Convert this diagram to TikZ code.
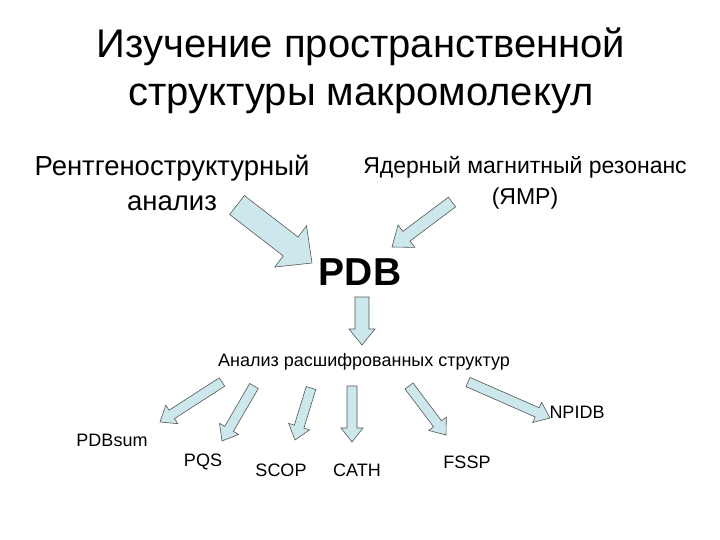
\documentclass[tikz,border=0pt]{standalone}
\usepackage{fontspec}
\setmainfont{Liberation Sans}
\usetikzlibrary{calc}
\definecolor{afill}{HTML}{CCE8EC}
\definecolor{aline}{HTML}{555555}
\tikzset{lbl/.style={inner sep=0pt,align=center},
sml/.style={lbl,font=\fontsize{18}{20}\selectfont},
barr/.style={fill=afill,draw=aline,line width=0.6pt,line join=miter}}
% #1 tail, #2 tip, #3 half shaft, #4 half head, #5 head length
\newcommand\blockarr[5]{%
\coordinate (hb) at ($(#2)!#5!(#1)$);
\draw[barr] ($(#1)!#3!90:(#2)$) -- ($(hb)!#3!90:(#2)$) -- ($(hb)!#4!90:(#2)$) -- (#2)
 -- ($(hb)!#4!-90:(#2)$) -- ($(hb)!#3!-90:(#2)$) -- ($(#1)!#3!-90:(#2)$) -- cycle;}
\begin{document}
\begin{tikzpicture}[x=1pt,y=-1pt]
\useasboundingbox (0,0) rectangle (720,540);
\node[lbl,font=\fontsize{40}{48}\selectfont] (title) at (361,71) {Изучение пространственной\\структуры макромолекул};
\node[lbl,font=\fontsize{27.5}{35}\selectfont] (xray) at (172,183) {Рентгеноструктурный\\анализ};
\node[lbl,font=\fontsize{23}{31}\selectfont] (nmr) at (525,183) {Ядерный магнитный резонанс\\(ЯМР)};
\node[lbl,font=\fontsize{39}{44}\bfseries] (pdb) at (360,272) {PDB};
\node[sml] (anal) at (364,362) {Анализ расшифрованных структур};
\node[sml] (pdbsum) at (112,440) {PDBsum};
\node[sml] (pqs) at (203,462) {PQS};
\node[sml] (scop) at (281,470) {SCOP};
\node[sml] (cath) at (357,470) {CATH};
\node[sml] (fssp) at (467,462) {FSSP};
\node[sml] (npidb) at (577,412) {NPIDB};
\coordinate (a1) at (237,205); \coordinate (b1) at (312,263);
\coordinate (a2) at (452,202); \coordinate (b2) at (392,247);
\coordinate (a3) at (362,297); \coordinate (b3) at (362,345);
\coordinate (c1) at (222,382); \coordinate (d1) at (160,422);
\coordinate (c2) at (254,386); \coordinate (d2) at (222,441);
\coordinate (c3) at (311,388); \coordinate (d3) at (295,440);
\coordinate (c4) at (352,386); \coordinate (d4) at (352,442);
\coordinate (c5) at (409,386); \coordinate (d5) at (446,435);
\coordinate (c6) at (468,382); \coordinate (d6) at (550,418);
\blockarr{a1}{b1}{12pt}{26pt}{27pt}
\blockarr{a2}{b2}{6pt}{14pt}{18pt}
\blockarr{a3}{b3}{7pt}{13pt}{16pt}
\blockarr{c1}{d1}{5pt}{11pt}{14pt}
\blockarr{c2}{d2}{5pt}{11pt}{14pt}
\blockarr{c3}{d3}{5pt}{11pt}{14pt}
\blockarr{c4}{d4}{5pt}{11pt}{14pt}
\blockarr{c5}{d5}{5pt}{11pt}{14pt}
\blockarr{c6}{d6}{5pt}{11pt}{14pt}
\end{tikzpicture}
\end{document}
